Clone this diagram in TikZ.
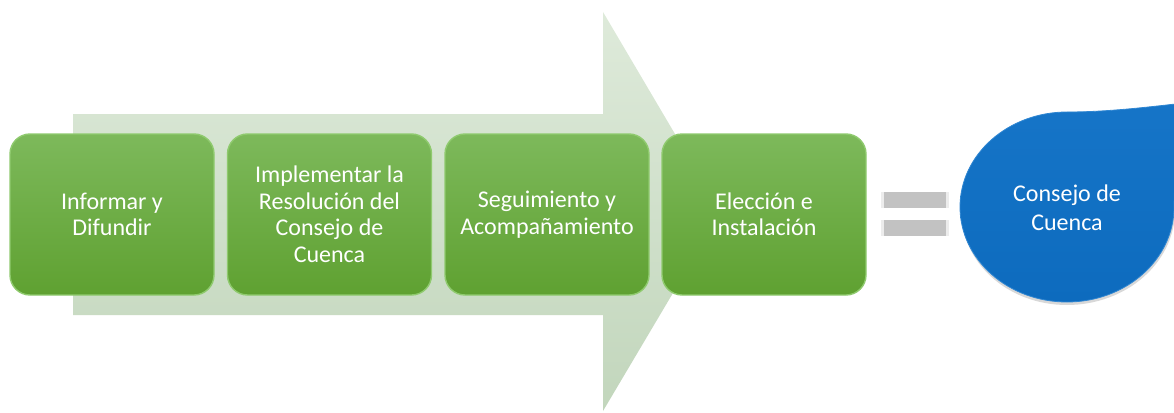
\documentclass[tikz,border=0pt]{standalone}
\usepackage{fontspec}
\setmainfont{Carlito}
\begin{document}
\begin{tikzpicture}[x=1pt,y=-1pt,
  stepbox/.style={rounded corners=20pt, minimum width=204pt, minimum height=161pt,
    top color=boxtop, bottom color=boxbot, draw=boxedge, line width=1.4pt,
    text=white, align=center, inner sep=2pt,
    font=\fontsize{24}{26.5}\selectfont},
  eqbar/.style={fill=bargray, draw=none, minimum width=68pt, minimum height=16pt, inner sep=0pt},
  dropfill/.style={top color=droptop, bottom color=dropbot, draw=dropedge, line width=0.8pt},
  droptext/.style={text=white, align=center, font=\fontsize{24}{29.3}\selectfont}
]
\definecolor{boxtop}{HTML}{7DB95B}
\definecolor{boxbot}{HTML}{5FA131}
\definecolor{boxedge}{HTML}{8FCA6E}
\definecolor{arrtop}{HTML}{DEEADA}
\definecolor{arrbot}{HTML}{C2D6BC}
\definecolor{bargray}{HTML}{C2C2C2}
\definecolor{droptop}{HTML}{1675C8}
\definecolor{dropbot}{HTML}{0D6BBE}
\definecolor{dropedge}{HTML}{2F86D2}
\definecolor{shadowgray}{HTML}{D8D8D8}
\useasboundingbox (0,0) rectangle (1174,412);
\clip (0,0) rectangle (1174,412);
% background arrow
\path[top color=arrtop, bottom color=arrbot]
  (73,114) -- (603,114) -- (603,12) -- (721,212) -- (603,411) -- (603,315) -- (73,315) -- cycle;
% steps
\node[stepbox] (b1) at (112,214.5) {Informar y\\Difundir};
\node[stepbox] (b2) at (329.5,214.5) {Implementar la\\Resolución del\\Consejo de\\Cuenca};
\node[stepbox] (b3) at (547,214.5) {Seguimiento y\\Acompañamiento};
\node[stepbox] (b4) at (764,214.5) {Elección e\\Instalación};
% equals sign
\node[eqbar] (e1) at (915,200) {};
\node[eqbar] (e2) at (915,228) {};
\foreach \e in {e1,e2}{
  \fill[white!85!gray] (\e.north west) rectangle ([xshift=3pt]\e.south west);
  \fill[white!85!gray] ([xshift=-3pt]\e.north east) rectangle (\e.south east);
}
% drop shadow
\fill[shadowgray]
  (1067,115) .. controls (1008,115) and (961,158) .. (961,210)
  .. controls (961,263) and (1008,305) .. (1067,305)
  .. controls (1126,305) and (1175,263) .. (1175,210) -- cycle;
% drop
\path[dropfill]
  (1067,112) .. controls (1008,112) and (960,154.5) .. (960,207)
  .. controls (960,259.5) and (1008,302) .. (1067,302)
  .. controls (1126,302) and (1174,259.5) .. (1174,207)
  .. controls (1175,150) and (1180,110) .. (1230,98)
  .. controls (1170,104) and (1120,112) .. (1067,112) -- cycle;
\node[droptext] (d) at (1067,208) {Consejo de\\Cuenca};
\end{tikzpicture}
\end{document}
